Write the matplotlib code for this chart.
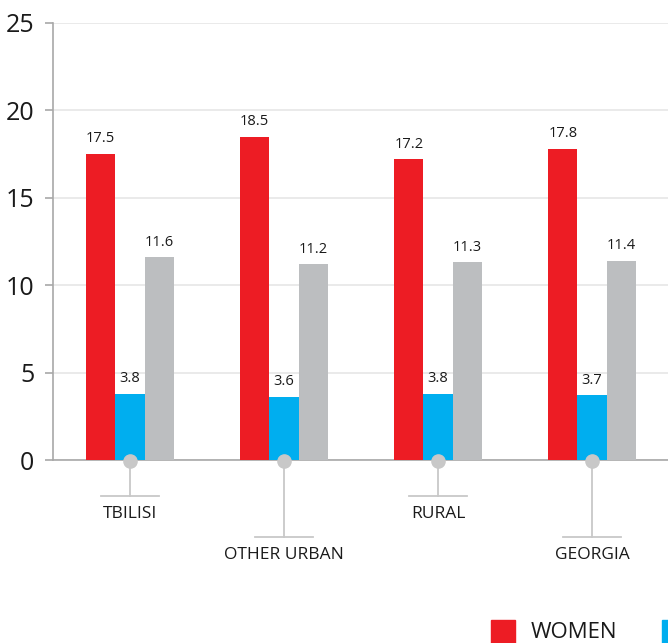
import matplotlib
matplotlib.use("Agg")
import matplotlib.pyplot as plt
import matplotlib.transforms as mtransforms
from matplotlib.patches import Rectangle
import numpy as np

plt.rcParams['font.family'] = ['Open Sans', 'DejaVu Sans']

categories = ["TBILISI", "OTHER URBAN", "RURAL", "GEORGIA"]
women = [17.5, 18.5, 17.2, 17.8]
men = [3.8, 3.6, 3.8, 3.7]
total = [11.6, 11.2, 11.3, 11.4]
yticks = [0, 5, 10, 15, 20, 25]

RED = "#ED1C24"
BLUE = "#00AEEF"
GRAY = "#BCBEC0"
LINE = "#C8C8C8"
TEXT = "#1A1A1A"

W, H = 668, 643
fig = plt.figure(figsize=(W / 100, H / 100), dpi=100)
ax = fig.add_axes([53 / W, 1 - 460 / H, (669 - 53) / W, (460 - 23) / H])

x = np.arange(len(categories))
bw = 0.19
series = [(women, RED, -bw), (men, BLUE, 0.0), (total, GRAY, bw)]
for vals, col, off in series:
    bars = ax.bar(x + off, vals, width=bw, color=col, zorder=3)
    for b, v in zip(bars, vals):
        ax.annotate(f"{v:.1f}", (b.get_x() + b.get_width() / 2, v),
                    xytext=(0, 5.5), textcoords="offset points",
                    ha="center", va="bottom", fontsize=10.5, color=TEXT, zorder=4)

ax.set_xlim(-0.5, 3.5)
ax.set_ylim(0, 25)
ax.set_yticks(yticks)
ax.set_yticklabels([str(t) for t in yticks], fontsize=18, color=TEXT)
ax.set_xticks([])
ax.grid(axis="y", color="#E6E6E6", linewidth=1.2, zorder=0)
for s in ["top", "right"]:
    ax.spines[s].set_visible(False)
ax.spines["left"].set_color("#A8A8A8")
ax.spines["bottom"].set_color("#A8A8A8")
ax.spines["left"].set_linewidth(1.2)
ax.spines["bottom"].set_linewidth(1.2)
ax.tick_params(axis="y", length=6, width=1.2, color="#A8A8A8", pad=7.5)

# category labels hanging from the baseline on leader lines
tr = mtransforms.blended_transform_factory(ax.transData, fig.transFigure)
def fy(py):
    return 1 - py / H

for i, cat in enumerate(categories):
    low = i % 2 == 1
    yl = 537 if low else 496
    yt = 555 if low else 514
    ax.plot([i, i], [fy(461), fy(yl)], transform=tr, color=LINE, lw=1.3,
            clip_on=False, zorder=2)
    ax.plot([i - 0.19, i + 0.19], [fy(yl), fy(yl)], transform=tr, color=LINE,
            lw=1.3, clip_on=False, zorder=2)
    ax.plot([i], [fy(461)], transform=tr, marker="o", markersize=9.5,
            color=LINE, clip_on=False, zorder=5)
    ax.text(i, fy(yt), cat, transform=tr, ha="center", va="center",
            fontsize=12.5, color=TEXT)

# legend along the bottom edge
fig.add_artist(Rectangle((491 / W, fy(644)), 24 / W, 24 / H,
                         transform=fig.transFigure, color=RED))
fig.text(531 / W, fy(632), "WOMEN", ha="left", va="center", fontsize=16, color=TEXT)
fig.add_artist(Rectangle((662 / W, fy(644)), 24 / W, 24 / H,
                         transform=fig.transFigure, color=BLUE))

fig.savefig("out.png", dpi=100)
